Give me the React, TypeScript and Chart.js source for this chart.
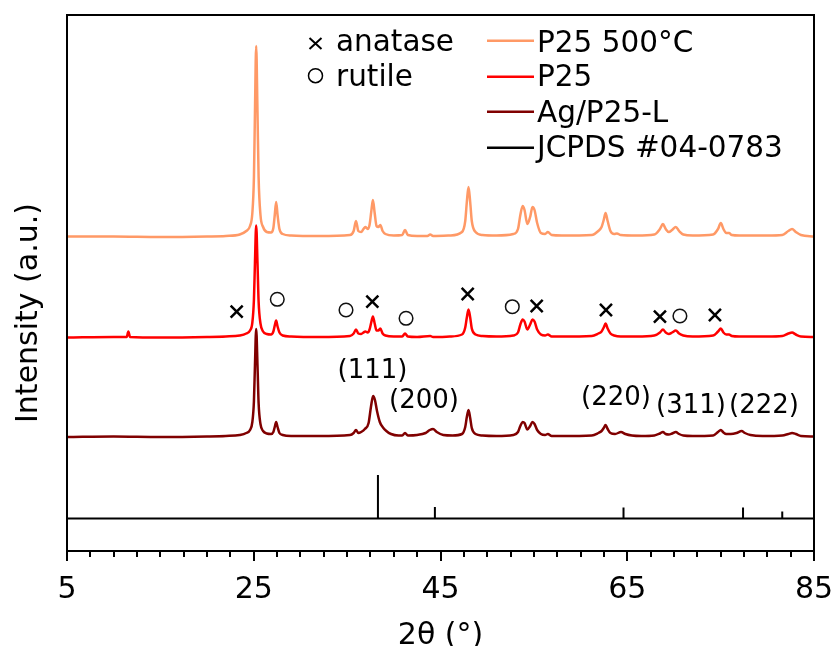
import React, { useEffect, useRef } from 'react';
import { Chart, registerables } from 'chart.js';

Chart.register(...registerables);

// ---------- data ----------
const X_TICKS = [5, 25, 45, 65, 85];
const X_MINOR_STEP = 2.5;

const SERIES_NAMES = ['P25 500°C', 'P25', 'Ag/P25-L', 'JCPDS #04-0783'];

// [2θ, intensity above the pattern's own baseline] (a.u.)
const P25_500C: [number, number][] = [
  [5, 0.5], [10, 0.5], [15, 0], [20, 0.5], [22, 1], [23.5, 2.5], [24.2, 6], [24.6, 11], [24.85, 24], [25.02, 60],
  [25.13, 125], [25.26, 191], [25.4, 125], [25.52, 60], [25.72, 22], [26.0, 10], [26.4, 5], [26.85, 4.5], [27.1, 9],
  [27.25, 22], [27.4, 35], [27.55, 22], [27.75, 8], [28.1, 3], [29, 1.5], [32, 1], [35.3, 2], [35.7, 6],
  [35.95, 16], [36.2, 6], [36.5, 5], [36.75, 8], [36.95, 10], [37.2, 8], [37.4, 12], [37.58, 25], [37.76, 37],
  [37.95, 24], [38.15, 11], [38.35, 10], [38.55, 12], [38.8, 6], [39.1, 3], [40, 1.5], [40.9, 2], [41.2, 7],
  [41.5, 2], [42.5, 1], [43.6, 1], [43.9, 2.5], [44.2, 1], [46, 1.5], [47.3, 5], [47.65, 16], [47.82, 35],
  [48.0, 50], [48.18, 35], [48.35, 16], [48.75, 5], [49.5, 2], [51, 1.5], [52.8, 3], [53.3, 8], [53.55, 22],
  [53.8, 31], [54.0, 27], [54.3, 13], [54.6, 20], [54.85, 30], [55.07, 27], [55.35, 14], [55.75, 4], [56.2, 3],
  [56.5, 5], [56.9, 2], [58, 1.5], [61.2, 2], [61.9, 6], [62.25, 10], [62.48, 17], [62.68, 24], [62.9, 16],
  [63.2, 6], [63.6, 3], [63.9, 3.5], [64.3, 2], [66, 1.5], [67.9, 2.5], [68.5, 8], [68.82, 13], [69.12, 8],
  [69.45, 5], [69.8, 7], [70.2, 10], [70.55, 6], [71, 2.5], [72, 1.5], [74.2, 2.5], [74.72, 8], [75.02, 14],
  [75.3, 8], [75.6, 4], [75.9, 4], [76.2, 2], [77, 1.5], [80, 1.5], [81.6, 2], [82.25, 6], [82.65, 8],
  [83.05, 5], [83.6, 2], [85, 0.5],
];

const P25_RAW: [number, number][] = [
  [5, 0], [10, 0.5], [11.4, 0.5], [11.57, 6], [11.75, 0.5], [15, 0], [20, 0.5], [22, 1], [23.5, 2], [24.2, 4],
  [24.6, 7], [24.85, 15], [25.02, 38], [25.13, 75], [25.26, 112], [25.4, 75], [25.52, 36], [25.72, 14], [26.0, 6],
  [26.4, 3.5], [26.85, 3], [27.1, 6], [27.25, 12], [27.4, 17], [27.55, 11], [27.75, 5], [28.1, 2], [29, 1],
  [32, 0.5], [35.3, 1.5], [35.7, 4], [35.95, 8], [36.2, 4], [36.5, 3.5], [36.75, 5], [36.95, 6], [37.2, 5],
  [37.4, 8], [37.58, 15], [37.76, 21], [37.95, 14], [38.15, 7], [38.35, 7], [38.55, 9], [38.8, 4], [39.1, 2],
  [40, 1], [40.9, 1], [41.2, 4], [41.5, 1], [42.5, 0.5], [43.9, 1.5], [44.2, 0.5], [46, 1], [47.3, 3],
  [47.65, 10], [47.82, 20], [48.0, 28], [48.18, 20], [48.35, 9], [48.75, 3], [49.5, 1.5], [51, 1], [52.8, 2],
  [53.3, 5], [53.55, 13], [53.8, 18], [54.0, 16], [54.3, 8], [54.6, 13], [54.85, 18], [55.07, 16], [55.35, 8],
  [55.75, 3], [56.2, 2], [56.5, 3], [56.9, 1], [58, 1], [61.2, 1.5], [61.9, 4], [62.25, 6], [62.48, 10],
  [62.68, 14], [62.9, 9], [63.2, 4], [63.6, 2], [64.3, 1], [66, 1], [67.9, 2], [68.5, 5], [68.82, 8],
  [69.12, 5], [69.45, 3.5], [69.8, 5], [70.2, 7], [70.55, 4], [71, 2], [72, 1], [74.2, 2], [74.72, 6],
  [75.02, 9], [75.3, 5], [75.6, 3], [75.9, 3], [76.2, 1.5], [77, 1], [80, 1], [81.6, 1.5], [82.25, 4],
  [82.65, 5], [83.05, 3], [83.6, 1], [85, 0.5],
];

const AG_P25_L: [number, number][] = [
  [5, 0], [10, 0.5], [15, 0], [20, 0.5], [22, 1], [23.5, 2], [24.2, 4], [24.6, 7], [24.85, 15], [25.02, 36],
  [25.13, 72], [25.26, 108], [25.4, 72], [25.52, 34], [25.72, 13], [26.0, 6], [26.4, 3.5], [26.85, 3], [27.1, 5],
  [27.25, 10], [27.4, 15], [27.55, 10], [27.75, 4], [28.1, 2], [29, 1], [32, 1], [35.3, 2], [35.7, 4],
  [35.95, 7], [36.2, 4], [36.5, 5], [36.9, 8], [37.3, 14], [37.55, 30], [37.78, 41], [37.98, 37], [38.2, 26],
  [38.5, 15], [38.8, 10], [39.2, 6], [39.7, 3], [40.5, 1.5], [40.9, 1.5], [41.2, 4], [41.5, 1.5], [42.5, 2],
  [43.4, 4], [43.85, 7], [44.2, 8], [44.6, 5], [45.3, 2], [46.3, 1.5], [47.3, 3], [47.65, 10], [47.82, 20],
  [48.0, 27], [48.18, 19], [48.35, 9], [48.75, 3], [49.5, 1.5], [51, 1], [52.8, 2], [53.3, 5], [53.55, 11],
  [53.8, 15], [54.0, 14], [54.3, 7.5], [54.6, 11], [54.85, 15], [55.07, 13], [55.35, 7], [55.75, 3], [56.2, 2],
  [56.5, 3], [56.9, 1], [58, 1], [61.2, 1.5], [61.9, 4], [62.25, 6], [62.48, 9], [62.68, 12], [62.9, 8],
  [63.2, 4], [63.7, 3], [64.33, 5], [64.8, 3], [65.5, 1.5], [66.5, 1], [67.9, 1.5], [68.5, 3.5], [68.82, 5],
  [69.12, 3], [69.45, 2.5], [69.8, 3.5], [70.2, 5], [70.55, 3], [71, 1.5], [72, 1], [74.2, 1.5], [74.72, 5],
  [75.02, 7], [75.3, 4.5], [75.6, 3], [76.1, 3], [76.7, 4], [77.25, 6], [77.6, 4], [78.2, 2], [79.5, 1],
  [81.6, 1.5], [82.25, 3], [82.65, 4], [83.05, 3], [83.6, 1], [85, 0.5],
];

// JCPDS #04-0783 (Ag) reference lines
const JCPDS_POS = [38.3, 44.4, 64.6, 77.4, 81.6];
const JCPDS_INT = [43.5, 11.5, 11, 11, 7];

// phase markers [2θ, height on the plot]
const ANATASE_MARKS: [number, number][] = [
  [23.17, 239.3], [37.7, 249.3], [47.91, 257], [55.3, 245], [62.72, 241], [68.5, 234.3], [74.39, 236],
];
const RUTILE_MARKS: [number, number][] = [
  [27.52, 251.7], [34.88, 241], [41.31, 232.7], [52.69, 244.3], [70.64, 235],
];

const HKL_LABELS = ['(111)', '(200)', '(220)', '(311)', '(222)'];
const HKL_POS: [number, number][] = [
  [37.72, 172.7], [43.23, 143], [63.8, 146], [71.83, 138], [79.64, 138],
];

// ---------- layout / style ----------
const OFFSET_500 = 314;
const OFFSET_P25 = 213.5;
const OFFSET_AG = 114;
const OFFSET_JCPDS = 32.5;
const Y_MAX = 536;
const COLORS = ['#FF9966', '#FF0000', '#800000', '#000000'];
const FONT = '"DejaVu Sans", Verdana, sans-serif';

const shift = (pts: [number, number][], off: number) => pts.map(([x, y]) => ({ x, y: y + off }));

function jcpdsPoints() {
  const pts: { x: number; y: number }[] = [{ x: X_TICKS[0], y: OFFSET_JCPDS }];
  JCPDS_POS.forEach((p, i) => {
    pts.push({ x: p, y: OFFSET_JCPDS });
    pts.push({ x: p, y: OFFSET_JCPDS + JCPDS_INT[i] });
    pts.push({ x: p, y: OFFSET_JCPDS });
  });
  pts.push({ x: X_TICKS[X_TICKS.length - 1], y: OFFSET_JCPDS });
  return pts;
}

const decorPlugin = {
  id: 'decor',
  afterDatasetsDraw(chart: any) {
    const { ctx, chartArea: a, scales } = chart;
    const xs = scales.x;
    const ys = scales.y;
    ctx.save();
    ctx.strokeStyle = '#000';
    ctx.fillStyle = '#000';
    ctx.lineWidth = 2;
    // frame
    ctx.strokeRect(a.left, a.top, a.right - a.left, a.bottom - a.top);
    // ticks
    const last = X_TICKS[X_TICKS.length - 1];
    for (let v = X_TICKS[0]; v <= last + 1e-6; v += X_MINOR_STEP) {
      const px = Math.round(xs.getPixelForValue(v));
      const major = X_TICKS.some((t) => Math.abs(t - v) < 1e-6);
      ctx.beginPath();
      ctx.moveTo(px, a.bottom);
      ctx.lineTo(px, a.bottom + (major ? 10 : 6));
      ctx.stroke();
    }
    // hkl labels
    ctx.font = `26px ${FONT}`;
    ctx.textAlign = 'center';
    ctx.textBaseline = 'alphabetic';
    HKL_LABELS.forEach((t, i) => {
      ctx.fillText(t, xs.getPixelForValue(HKL_POS[i][0]), ys.getPixelForValue(HKL_POS[i][1]));
    });
    // phase legend
    ctx.textAlign = 'left';
    ctx.font = `29.5px ${FONT}`;
    ctx.lineWidth = 2;
    ctx.beginPath();
    ctx.moveTo(309.5, 38); ctx.lineTo(321.5, 49);
    ctx.moveTo(321.5, 38); ctx.lineTo(309.5, 49);
    ctx.stroke();
    ctx.fillText('anatase', 336, 50.5);
    ctx.lineWidth = 1.5;
    ctx.beginPath();
    ctx.arc(315.5, 75.7, 7, 0, Math.PI * 2);
    ctx.stroke();
    ctx.fillText('rutile', 336, 86);
    // series legend
    const lineY = [40.7, 76.7, 111.7, 147.7];
    const textY = [51.7, 86, 121.7, 156.7];
    SERIES_NAMES.forEach((name, i) => {
      ctx.strokeStyle = COLORS[i];
      ctx.lineWidth = 2.5;
      ctx.beginPath();
      ctx.moveTo(487, lineY[i]);
      ctx.lineTo(534, lineY[i]);
      ctx.stroke();
      ctx.fillStyle = '#000';
      ctx.fillText(name, 537, textY[i]);
    });
    // y title
    ctx.font = `30px ${FONT}`;
    ctx.textAlign = 'center';
    ctx.translate(37, 313);
    ctx.rotate(-Math.PI / 2);
    ctx.fillText('Intensity (a.u.)', 0, 0);
    ctx.restore();
  },
};

export default function App() {
  const ref = useRef<HTMLCanvasElement>(null);
  useEffect(() => {
    const lineDs = (label: string, data: any[], color: string, mono = true) => ({
      label,
      data,
      borderColor: color,
      backgroundColor: color,
      borderWidth: 2.5,
      pointRadius: 0,
      fill: false,
      cubicInterpolationMode: mono ? 'monotone' : 'default',
      tension: mono ? 0.4 : 0,
    });
    const chart = new Chart(ref.current!, {
      type: 'line',
      data: {
        datasets: [
          {
            label: 'anatase',
            data: ANATASE_MARKS.map(([x, y]) => ({ x, y })),
            showLine: false,
            pointStyle: 'crossRot',
            pointRadius: 8.5,
            pointBorderWidth: 2.5,
            borderColor: '#000',
            backgroundColor: '#000',
          } as any,
          {
            label: 'rutile',
            data: RUTILE_MARKS.map(([x, y]) => ({ x, y })),
            showLine: false,
            pointStyle: 'circle',
            pointRadius: 6.8,
            pointBorderWidth: 1.5,
            borderColor: '#111',
            backgroundColor: '#fff',
          } as any,
          lineDs(SERIES_NAMES[0], shift(P25_500C, OFFSET_500), COLORS[0]),
          lineDs(SERIES_NAMES[1], shift(P25_RAW, OFFSET_P25), COLORS[1]),
          lineDs(SERIES_NAMES[2], shift(AG_P25_L, OFFSET_AG), COLORS[2]),
          { ...lineDs(SERIES_NAMES[3], jcpdsPoints(), COLORS[3], false), borderWidth: 2 },
        ] as any,
      },
      options: {
        responsive: true,
        maintainAspectRatio: false,
        animation: false,
        devicePixelRatio: 1,
        layout: { padding: { left: 67, right: 17, top: 15, bottom: 0 } },
        plugins: { legend: { display: false }, tooltip: { enabled: false } },
        scales: {
          x: {
            type: 'linear',
            min: X_TICKS[0],
            max: X_TICKS[X_TICKS.length - 1],
            afterBuildTicks: (s: any) => {
              s.ticks = X_TICKS.map((v) => ({ value: v }));
            },
            afterFit: (s: any) => {
              s.height = 95;
              s.paddingLeft = 0;
              s.paddingRight = 0;
            },
            ticks: {
              autoSkip: false,
              maxRotation: 0,
              padding: 13,
              color: '#000',
              font: { family: FONT, size: 30 },
              callback: (v: any) => String(v),
            },
            grid: { display: false, drawTicks: true, tickLength: 8 },
            border: { display: false },
            title: {
              display: true,
              text: '2θ (°)',
              color: '#000',
              font: { family: FONT, size: 30, lineHeight: 0.8 },
              padding: { top: 0, bottom: -2 },
            },
          },
          y: { type: 'linear', min: 0, max: Y_MAX, display: false },
        },
      } as any,
      plugins: [decorPlugin],
    });
    return () => chart.destroy();
  }, []);
  return (
    <div style={{ position: 'fixed', left: 0, top: 0, width: 831, height: 646, background: '#fff' }}>
      <canvas ref={ref} />
    </div>
  );
}
